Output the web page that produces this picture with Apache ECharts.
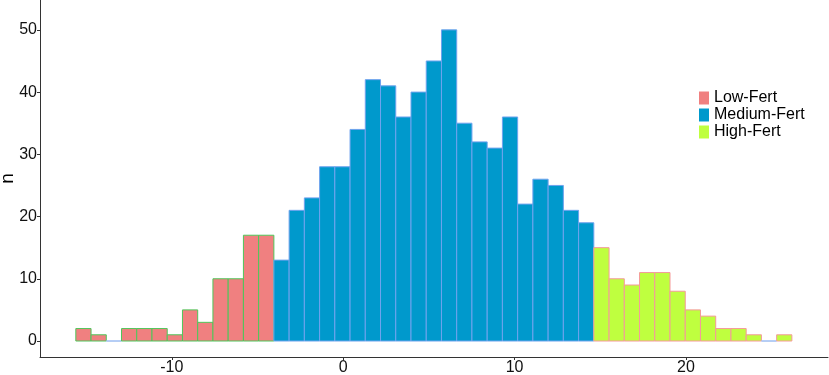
<!DOCTYPE html>
<html>
<head>
<meta charset="utf-8">
<script src="https://cdn.jsdelivr.net/npm/echarts@6/dist/echarts.min.js"></script>
<style>
  html, body { margin: 0; padding: 0; background: #fff; }
  #main { width: 829px; height: 375px; }
</style>
</head>
<body>
<div id="main"></div>
<script>
// histogram bins (left edge of the first bin and bin width, in x units)
var firstEdge = -15.6
var binWidth = 0.889

var groupNames = ['Low-Fert', 'Medium-Fert', 'High-Fert']
var lowCounts = [2, 1, 0, 2, 2, 2, 1, 5, 3, 10, 10, 17, 17]
var mediumCounts = [13, 21, 23, 28, 28, 34, 42, 41, 36, 40, 45, 50, 35, 32, 31, 36, 22, 26, 25, 21, 19]
var highCounts = [15, 10, 9, 11, 11, 8, 5, 4, 2, 2, 1, 0, 1]

var xTicks = [-10, 0, 10, 20]
var yTicks = [0, 10, 20, 30, 40, 50]

var fills = ['#F08080', '#0099CC', '#BFFF3F']
var strokes = ['#4FC65A', '#6FA3EE', '#F59A9A']

// turn the counts into [left, right, n] rows
function makeBins (counts, offset) {
  return counts.map(function (n, i) {
    var x0 = firstEdge + (offset + i) * binWidth
    return [x0, x0 + binWidth, n]
  })
}

var allGroups = [
  makeBins(lowCounts, 0),
  makeBins(mediumCounts, lowCounts.length),
  makeBins(highCounts, lowCounts.length + mediumCounts.length)
]

var myChart = echarts.init(document.getElementById('main'))

var series = allGroups.map(function (bins, g) {
  return {
    type: 'custom',
    name: groupNames[g],
    itemStyle: { color: fills[g] },
    encode: { x: [0, 1], y: 2 },
    renderItem: function (params, api) {
      var p0 = api.coord([api.value(0), api.value(2)])
      var p1 = api.coord([api.value(1), 0])
      var empty = api.value(2) === 0
      return {
        type: 'rect',
        shape: { x: p0[0], y: p0[1], width: p1[0] - p0[0], height: p1[1] - p0[1] },
        style: {
          fill: fills[g],
          stroke: empty ? '#9DBDF2' : strokes[g],
          lineWidth: 1
        }
      }
    },
    data: bins
  }
})

var option = {
  animation: false,
  textStyle: { fontFamily: 'Liberation Sans, Arial, sans-serif' },
  grid: { left: 40, right: 1, top: 0, bottom: 18, containLabel: false, outerBoundsMode: 'none' },
  legend: {
    orient: 'vertical',
    left: 699,
    top: 90,
    padding: 0,
    itemWidth: 10,
    itemHeight: 13,
    itemGap: 1,
    icon: 'rect',
    data: groupNames,
    textStyle: { color: '#000', fontSize: 16, lineHeight: 14, fontFamily: 'Liberation Sans, Arial, sans-serif' }
  },
  xAxis: {
    type: 'value',
    min: -17.69,
    max: 28.29,
    splitLine: { show: false },
    axisLine: { onZero: false, lineStyle: { color: '#333', width: 1 } },
    axisTick: { show: true, inside: false, length: 3, customValues: xTicks, lineStyle: { color: '#333' } },
    axisLabel: { customValues: xTicks, margin: 3, color: '#111', fontSize: 16 }
  },
  yAxis: {
    type: 'value',
    name: 'n',
    nameLocation: 'middle',
    nameGap: 23,
    nameMoveOverlap: false,
    nameTextStyle: { color: '#000', fontSize: 19 },
    min: -2.57,
    max: 54.8,
    splitLine: { show: false },
    axisLine: { show: true, onZero: false, lineStyle: { color: '#333', width: 1 } },
    axisTick: { show: true, inside: false, length: 3, customValues: yTicks, lineStyle: { color: '#333' } },
    axisLabel: { customValues: yTicks, margin: 3, color: '#111', fontSize: 16 }
  },
  series: series
}

myChart.setOption(option, true)
window.addEventListener('resize', function () {
  myChart.resize()
})
</script>
</body>
</html>
